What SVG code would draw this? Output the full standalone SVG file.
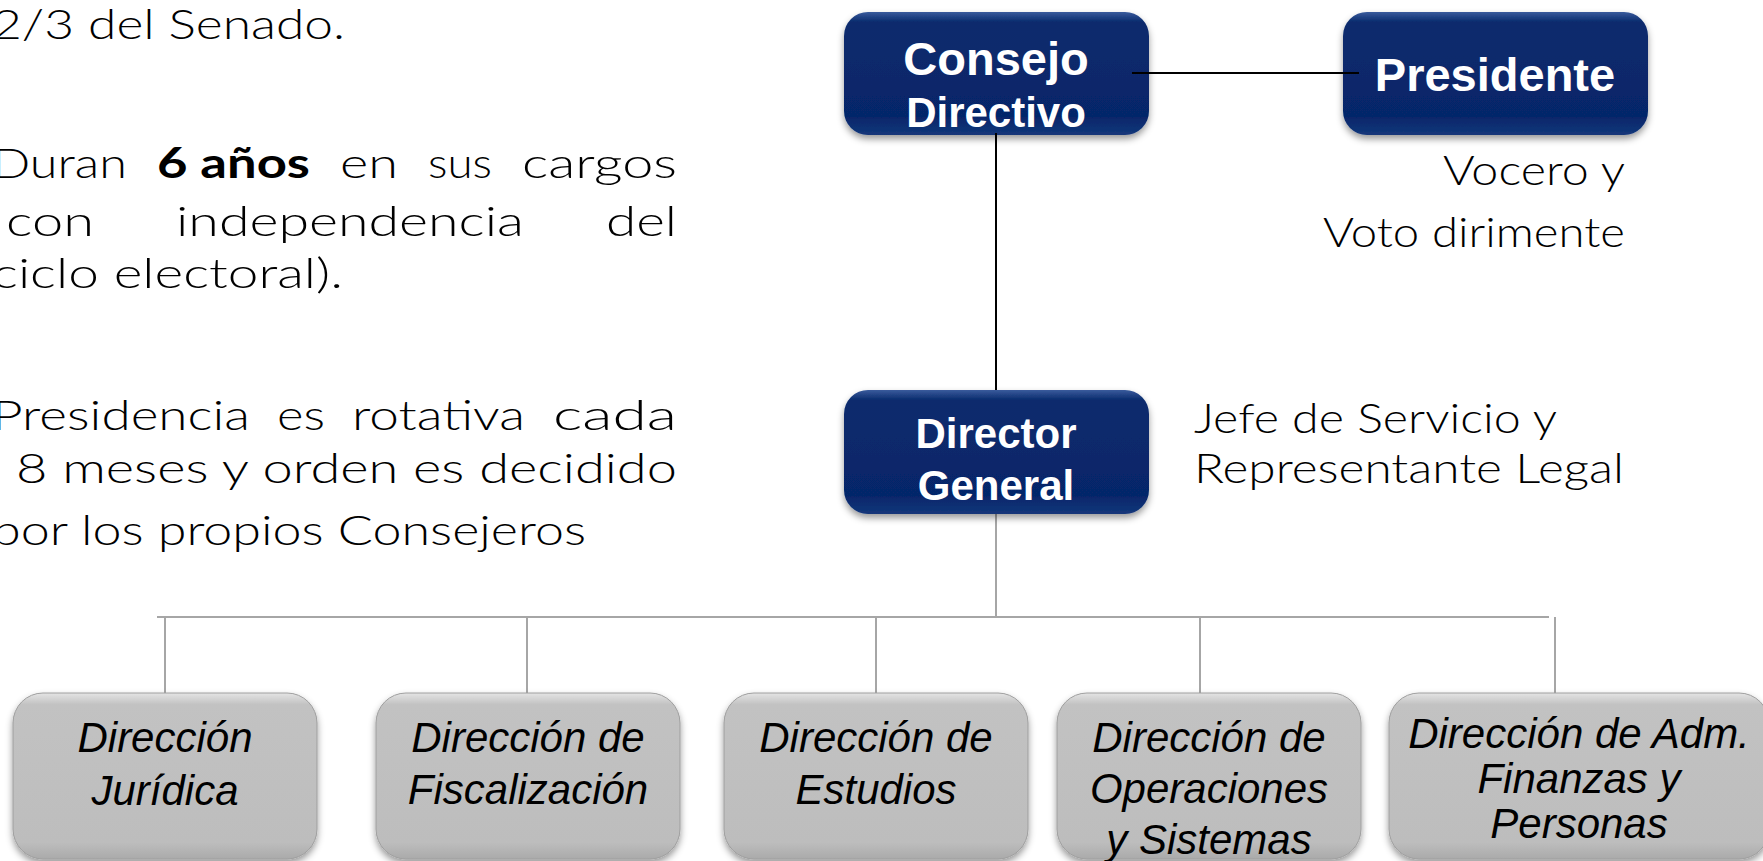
<svg xmlns="http://www.w3.org/2000/svg" width="1763" height="861" viewBox="0 0 1763 861">
<style>
.body{font-family:Lato,"Open Sans","Liberation Sans",sans-serif;font-weight:300;font-size:42px;fill:#000}
.bold{font-weight:bold}
.bt{font-family:"Liberation Sans",Arial,sans-serif;font-weight:bold;fill:#fff;text-anchor:middle}
.gt{font-family:"Liberation Sans",Arial,sans-serif;font-style:italic;font-size:42px;fill:#000;text-anchor:middle}
.blk{stroke:#000;stroke-width:2;fill:none}
.gry{stroke:#a6a6a6;stroke-width:2;fill:none}
.bbox{fill:url(#blueG)}
.gbox{fill:url(#grayG);stroke:#9e9e9e;stroke-width:1}
</style>
<defs>
<linearGradient id="blueG" x1="0" y1="0" x2="0" y2="1">
<stop offset="0" stop-color="#3a5b9c"/>
<stop offset="0.08" stop-color="#0a2b6d"/>
<stop offset="0.85" stop-color="#06266a"/>
<stop offset="1" stop-color="#14377a"/>
</linearGradient>
<linearGradient id="grayG" x1="0" y1="0" x2="0" y2="1">
<stop offset="0" stop-color="#e4e4e4"/>
<stop offset="0.07" stop-color="#c2c2c2"/>
<stop offset="0.9" stop-color="#bdbdbd"/>
<stop offset="1" stop-color="#aaaaaa"/>
</linearGradient>
<filter id="sh" x="-10%" y="-10%" width="120%" height="130%">
<feDropShadow dx="0" dy="4" stdDeviation="3.5" flood-color="#000" flood-opacity="0.4"/>
</filter>
</defs>

<g id="left-text">
<text class="body" x="-8" y="39" textLength="353" lengthAdjust="spacingAndGlyphs">2/3 del Senado.</text>
<g id="line-duran">
<text class="body" x="-8" y="178" textLength="135" lengthAdjust="spacingAndGlyphs">Duran</text>
<text class="body bold" x="157" y="178" textLength="153" lengthAdjust="spacingAndGlyphs">6 años</text>
<text class="body" x="340" y="178" textLength="58" lengthAdjust="spacingAndGlyphs">en</text>
<text class="body" x="428" y="178" textLength="64" lengthAdjust="spacingAndGlyphs">sus</text>
<text class="body" x="522" y="178" textLength="155" lengthAdjust="spacingAndGlyphs">cargos</text>
</g>
<g id="line-con">
<text class="body" x="6" y="236" textLength="88" lengthAdjust="spacingAndGlyphs">con</text>
<text class="body" x="176" y="236" textLength="348" lengthAdjust="spacingAndGlyphs">independencia</text>
<text class="body" x="606" y="236" textLength="71" lengthAdjust="spacingAndGlyphs">del</text>
</g>
<text class="body" x="-8" y="288" textLength="351" lengthAdjust="spacingAndGlyphs">ciclo electoral).</text>
<g id="line-presidencia">
<text class="body" x="-8" y="430" textLength="258" lengthAdjust="spacingAndGlyphs">Presidencia</text>
<text class="body" x="277" y="430" textLength="48" lengthAdjust="spacingAndGlyphs">es</text>
<text class="body" x="352" y="430" textLength="173" lengthAdjust="spacingAndGlyphs">rotativa</text>
<text class="body" x="553" y="430" textLength="124" lengthAdjust="spacingAndGlyphs">cada</text>
</g>
<text class="body" x="16" y="483" textLength="661" lengthAdjust="spacingAndGlyphs">8 meses y orden es decidido</text>
<text class="body" x="-8" y="545" textLength="594" lengthAdjust="spacingAndGlyphs">por los propios Consejeros</text>
</g>

<g id="connectors">
<line class="gry" x1="996" y1="514" x2="996" y2="617"/>
<line class="gry" x1="157" y1="617" x2="1549" y2="617"/>
<line class="gry" x1="165" y1="617" x2="165" y2="693"/>
<line class="gry" x1="527" y1="617" x2="527" y2="693"/>
<line class="gry" x1="876" y1="617" x2="876" y2="693"/>
<line class="gry" x1="1200" y1="617" x2="1200" y2="693"/>
<line class="gry" x1="1555" y1="617" x2="1555" y2="693"/>
</g>

<g id="consejo">
<rect class="bbox" x="844" y="12" width="305" height="123" rx="24" filter="url(#sh)"/>
<text class="bt" x="996" y="75" font-size="47">Consejo</text>
<text class="bt" x="996" y="127" font-size="42">Directivo</text>
</g>

<g id="presidente">
<rect class="bbox" x="1343" y="12" width="305" height="123" rx="24" filter="url(#sh)"/>
<text class="bt" x="1495" y="91" font-size="47">Presidente</text>
</g>

<g id="director">
<rect class="bbox" x="844" y="390" width="305" height="124" rx="24" filter="url(#sh)"/>
<text class="bt" x="996" y="448" font-size="42">Director</text>
<text class="bt" x="996" y="500" font-size="42">General</text>
</g>

<g id="black-connectors">
<line class="blk" x1="1132" y1="73" x2="1359" y2="73"/>
<line class="blk" x1="996" y1="133" x2="996" y2="390"/>
</g>

<g id="notes-right">
<text class="body" x="1625" y="185" text-anchor="end" textLength="182" lengthAdjust="spacingAndGlyphs">Vocero y</text>
<text class="body" x="1625" y="247" text-anchor="end" textLength="302" lengthAdjust="spacingAndGlyphs">Voto dirimente</text>
<text class="body" x="1194" y="433" textLength="363" lengthAdjust="spacingAndGlyphs">Jefe de Servicio y</text>
<text class="body" x="1194" y="483" textLength="430" lengthAdjust="spacingAndGlyphs">Representante Legal</text>
</g>

<g id="dir-juridica">
<rect class="gbox" x="13" y="693" width="304" height="166" rx="30" filter="url(#sh)"/>
<text class="gt" x="165" y="752">Dirección</text>
<text class="gt" x="165" y="805">Jurídica</text>
</g>
<g id="dir-fiscalizacion">
<rect class="gbox" x="376" y="693" width="304" height="166" rx="30" filter="url(#sh)"/>
<text class="gt" x="528" y="752">Dirección de</text>
<text class="gt" x="528" y="804">Fiscalización</text>
</g>
<g id="dir-estudios">
<rect class="gbox" x="724" y="693" width="304" height="166" rx="30" filter="url(#sh)"/>
<text class="gt" x="876" y="752">Dirección de</text>
<text class="gt" x="876" y="804">Estudios</text>
</g>
<g id="dir-operaciones">
<rect class="gbox" x="1057" y="693" width="304" height="166" rx="30" filter="url(#sh)"/>
<text class="gt" x="1209" y="752">Dirección de</text>
<text class="gt" x="1209" y="803">Operaciones</text>
<text class="gt" x="1209" y="854">y Sistemas</text>
</g>
<g id="dir-adm">
<rect class="gbox" x="1389" y="693" width="380" height="166" rx="30" filter="url(#sh)"/>
<text class="gt" x="1579" y="748" font-size="34">Dirección de Adm.</text>
<text class="gt" x="1579" y="793" font-size="34">Finanzas y</text>
<text class="gt" x="1579" y="838" font-size="34">Personas</text>
</g>
</svg>
